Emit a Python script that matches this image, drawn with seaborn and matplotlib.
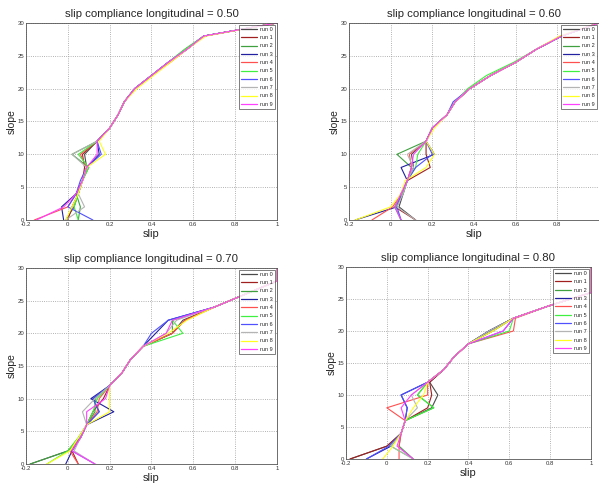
import numpy as np
import pandas as pd
import matplotlib
matplotlib.use("Agg")
import matplotlib.pyplot as plt
import seaborn as sns

# slope levels shared by every run (y values)
slope_levels = [0, 2, 4, 6, 8, 10, 12, 14, 16, 18, 20, 22, 24, 26, 28, 30]
run_names = ["run 0", "run 1", "run 2", "run 3", "run 4",
             "run 5", "run 6", "run 7", "run 8", "run 9"]
run_colors = ["#4a4a4a", "#a02020", "#40a040", "#2020a0", "#ff5050",
              "#40f040", "#5050ff", "#b4b4b4", "#ffff20", "#ff40ff"]
compliances = ["0.50", "0.60", "0.70", "0.80"]

# slip of each run at every slope level, one list per run
slip_050 = [
    [-0.01, 0.03, 0.05, 0.07, 0.09, 0.08, 0.14, 0.20, 0.24, 0.27, 0.32, 0.40, 0.48, 0.57, 0.65, 1.0],
    [0.00, 0.02, 0.05, 0.07, 0.08, 0.07, 0.14, 0.20, 0.24, 0.27, 0.32, 0.40, 0.48, 0.57, 0.65, 1.0],
    [0.05, 0.06, 0.04, 0.07, 0.10, 0.02, 0.14, 0.20, 0.24, 0.27, 0.32, 0.40, 0.48, 0.56, 0.65, 1.0],
    [-0.02, -0.03, 0.04, 0.07, 0.09, 0.15, 0.14, 0.20, 0.24, 0.27, 0.32, 0.40, 0.48, 0.57, 0.65, 1.0],
    [-0.16, 0.00, 0.04, 0.07, 0.09, 0.06, 0.14, 0.20, 0.24, 0.27, 0.32, 0.40, 0.49, 0.57, 0.65, 1.0],
    [0.05, 0.03, 0.05, 0.07, 0.10, 0.05, 0.14, 0.20, 0.24, 0.27, 0.32, 0.40, 0.48, 0.56, 0.65, 1.0],
    [0.12, 0.00, 0.04, 0.06, 0.09, 0.16, 0.14, 0.20, 0.24, 0.27, 0.32, 0.40, 0.48, 0.57, 0.65, 1.0],
    [-0.01, 0.08, 0.05, 0.07, 0.09, 0.02, 0.14, 0.20, 0.24, 0.27, 0.32, 0.40, 0.48, 0.57, 0.65, 1.0],
    [-0.01, 0.02, 0.05, 0.07, 0.09, 0.18, 0.15, 0.20, 0.24, 0.27, 0.33, 0.41, 0.49, 0.57, 0.66, 1.0],
    [-0.15, -0.02, 0.04, 0.07, 0.09, 0.14, 0.14, 0.20, 0.24, 0.27, 0.32, 0.40, 0.48, 0.57, 0.65, 1.0],
]
slip_060 = [
    [0.12, 0.04, 0.06, 0.08, 0.11, 0.10, 0.17, 0.20, 0.27, 0.31, 0.38, 0.48, 0.60, 0.70, 0.82, 1.0],
    [0.12, 0.02, 0.05, 0.08, 0.19, 0.17, 0.17, 0.20, 0.27, 0.31, 0.38, 0.48, 0.60, 0.70, 0.82, 1.0],
    [0.05, 0.02, 0.06, 0.08, 0.10, 0.03, 0.17, 0.20, 0.27, 0.31, 0.38, 0.48, 0.60, 0.70, 0.82, 1.0],
    [-0.17, 0.03, 0.05, 0.08, 0.05, 0.21, 0.17, 0.20, 0.27, 0.31, 0.38, 0.48, 0.60, 0.70, 0.82, 1.0],
    [-0.09, 0.01, 0.05, 0.08, 0.10, 0.09, 0.17, 0.20, 0.27, 0.31, 0.38, 0.48, 0.60, 0.70, 0.82, 1.0],
    [0.05, 0.02, 0.05, 0.08, 0.12, 0.13, 0.17, 0.20, 0.27, 0.31, 0.37, 0.46, 0.59, 0.70, 0.82, 1.0],
    [0.05, 0.03, 0.05, 0.08, 0.12, 0.20, 0.17, 0.20, 0.27, 0.30, 0.38, 0.48, 0.60, 0.70, 0.82, 1.0],
    [0.12, 0.03, 0.06, 0.08, 0.11, 0.08, 0.17, 0.20, 0.27, 0.31, 0.38, 0.48, 0.60, 0.70, 0.82, 1.0],
    [-0.17, 0.00, 0.05, 0.07, 0.17, 0.21, 0.17, 0.21, 0.27, 0.31, 0.38, 0.48, 0.60, 0.70, 0.81, 1.0],
    [0.05, 0.02, 0.05, 0.08, 0.10, 0.11, 0.17, 0.20, 0.27, 0.31, 0.38, 0.48, 0.60, 0.70, 0.82, 1.0],
]
slip_070 = [
    [-0.18, 0.00, 0.06, 0.09, 0.15, 0.12, 0.20, 0.26, 0.30, 0.36, 0.50, 0.55, 0.70, 0.85, 1.0, 1.0],
    [0.05, 0.02, 0.06, 0.09, 0.12, 0.17, 0.20, 0.26, 0.30, 0.36, 0.50, 0.56, 0.70, 0.85, 1.0, 1.0],
    [-0.18, 0.00, 0.05, 0.09, 0.13, 0.13, 0.20, 0.26, 0.30, 0.36, 0.50, 0.50, 0.70, 0.85, 1.0, 1.0],
    [-0.01, 0.02, 0.06, 0.09, 0.22, 0.11, 0.20, 0.26, 0.30, 0.36, 0.42, 0.48, 0.70, 0.85, 1.0, 1.0],
    [0.05, 0.01, 0.06, 0.09, 0.14, 0.15, 0.20, 0.26, 0.30, 0.36, 0.50, 0.56, 0.70, 0.85, 1.0, 1.0],
    [-0.10, 0.00, 0.05, 0.09, 0.12, 0.14, 0.20, 0.26, 0.30, 0.36, 0.55, 0.50, 0.70, 0.85, 1.0, 1.0],
    [0.13, 0.02, 0.06, 0.09, 0.15, 0.12, 0.20, 0.26, 0.30, 0.36, 0.40, 0.48, 0.70, 0.85, 1.0, 1.0],
    [0.13, 0.03, 0.06, 0.09, 0.07, 0.13, 0.20, 0.26, 0.30, 0.36, 0.47, 0.52, 0.70, 0.85, 1.0, 1.0],
    [-0.10, 0.01, 0.05, 0.09, 0.20, 0.20, 0.20, 0.26, 0.30, 0.36, 0.48, 0.57, 0.70, 0.85, 1.0, 1.0],
    [0.13, 0.02, 0.06, 0.09, 0.09, 0.18, 0.20, 0.26, 0.30, 0.36, 0.47, 0.50, 0.70, 0.85, 1.0, 1.0],
]
slip_080 = [
    [-0.18, 0.00, 0.07, 0.09, 0.22, 0.25, 0.21, 0.28, 0.33, 0.40, 0.52, 0.62, 0.80, 1.0, 1.0, 1.0],
    [-0.18, 0.00, 0.07, 0.09, 0.20, 0.22, 0.21, 0.28, 0.33, 0.40, 0.50, 0.62, 0.80, 1.0, 1.0, 1.0],
    [0.13, 0.06, 0.07, 0.09, 0.23, 0.15, 0.20, 0.28, 0.33, 0.40, 0.50, 0.62, 0.80, 1.0, 1.0, 1.0],
    [-0.10, 0.02, 0.07, 0.09, 0.10, 0.07, 0.20, 0.28, 0.33, 0.40, 0.50, 0.62, 0.80, 1.0, 1.0, 1.0],
    [0.06, 0.06, 0.07, 0.09, 0.00, 0.20, 0.20, 0.28, 0.33, 0.40, 0.62, 0.63, 0.80, 1.0, 1.0, 1.0],
    [0.13, 0.02, 0.07, 0.09, 0.23, 0.15, 0.20, 0.28, 0.33, 0.40, 0.60, 0.62, 0.80, 1.0, 1.0, 1.0],
    [-0.10, 0.01, 0.07, 0.09, 0.10, 0.07, 0.20, 0.28, 0.33, 0.40, 0.57, 0.62, 0.80, 1.0, 1.0, 1.0],
    [0.13, 0.02, 0.07, 0.09, 0.15, 0.12, 0.20, 0.28, 0.33, 0.40, 0.50, 0.62, 0.80, 1.0, 1.0, 1.0],
    [-0.02, 0.03, 0.07, 0.09, 0.13, 0.18, 0.20, 0.28, 0.33, 0.40, 0.52, 0.62, 0.80, 1.0, 1.0, 1.0],
    [0.13, 0.05, 0.07, 0.09, 0.07, 0.12, 0.20, 0.28, 0.33, 0.40, 0.57, 0.62, 0.80, 1.0, 1.0, 1.0],
]
all_slips = [slip_050, slip_060, slip_070, slip_080]
x_ticks = [-0.2, 0, 0.2, 0.4, 0.6, 0.8, 1.0]
x_labels = ["-0.2", "0", "0.2", "0.4", "0.6", "0.8", "1"]

sns.set_style("white")
plt.rcParams["font.family"] = ["Liberation Sans", "DejaVu Sans"]

fig = plt.figure(figsize=(5.99, 4.83), dpi=100)
boxes = [
    [0.0434, 0.5445, 0.419, 0.408],
    [0.5826, 0.5445, 0.4174, 0.408],
    [0.0434, 0.0393, 0.419, 0.406],
    [0.5776, 0.0497, 0.409, 0.3975],
]

for i, (box, comp, slips) in enumerate(zip(boxes, compliances, all_slips)):
    ax = fig.add_axes(box)
    rows = []
    for name, run in zip(run_names, slips):
        for s, y in zip(run, slope_levels):
            rows.append({"run": name, "slip": s, "slope": y})
    df = pd.DataFrame(rows)
    sns.lineplot(data=df, x="slip", y="slope", hue="run", palette=run_colors,
                 sort=False, estimator=None, linewidth=0.8, ax=ax)
    ax.set_xlim(-0.2, 1.0)
    ax.set_ylim(0, 30)
    ax.set_xticks(x_ticks)
    labels = list(x_labels)
    if i == 1:
        # right edge of this panel is cut off in the reference
        labels[-1] = ""
    ax.set_xticklabels(labels)
    ax.set_yticks([0, 5, 10, 15, 20, 25, 30])
    ax.tick_params(labelsize=4.3, direction="in", length=2, pad=1.2, colors="#333333")
    ax.grid(True, linestyle=":", color="#999999", linewidth=0.6)
    for sp in ax.spines.values():
        sp.set_color("#555555")
        sp.set_linewidth(0.6)
    ax.set_xlabel("slip", fontsize=8, labelpad=2)
    ax.set_ylabel("slope", fontsize=7.5, labelpad=0.8)
    ax.set_title(f"slip compliance longitudinal = {comp}", fontsize=8.2, pad=4)
    leg = ax.legend(loc="upper right", fontsize=4, frameon=True, fancybox=False,
                    handlelength=2.8, borderpad=0.4, labelspacing=0.6,
                    handletextpad=0.6, borderaxespad=0.3)
    leg.get_frame().set_edgecolor("#444444")
    leg.get_frame().set_linewidth(0.6)
    for line in leg.get_lines():
        line.set_linewidth(0.9)

fig.savefig("out.png", dpi=100)
